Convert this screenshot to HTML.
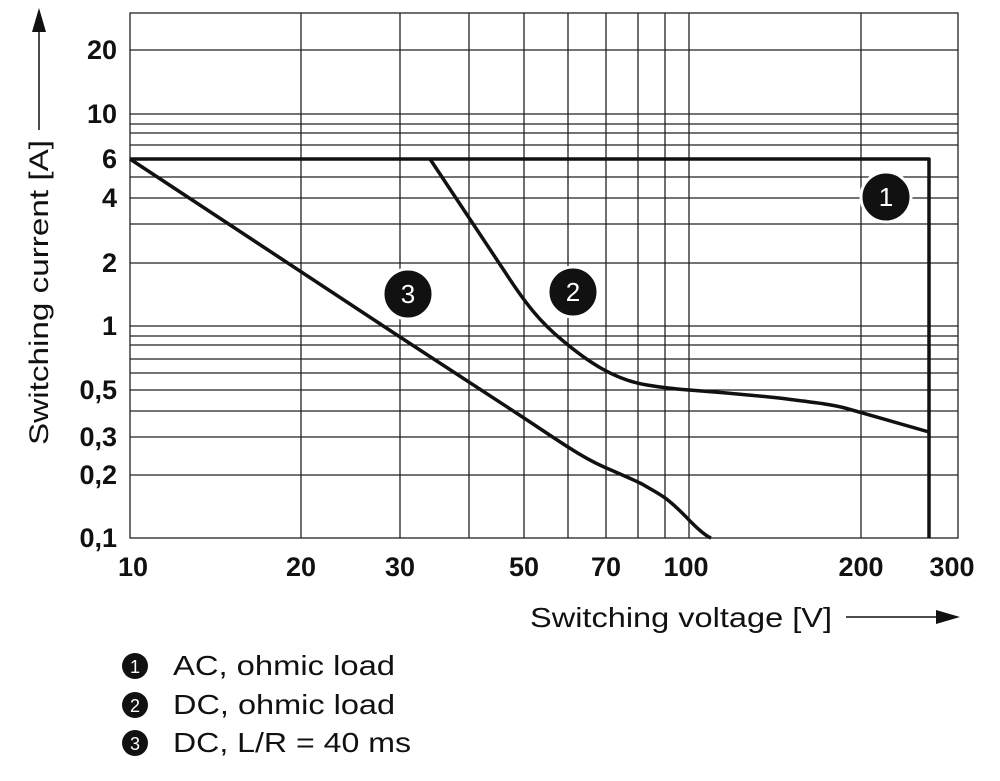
<!DOCTYPE html>
<html><head><meta charset="utf-8"><style>
body{margin:0;background:#fff;}
svg{display:block;font-family:"Liberation Sans",sans-serif;}
</style></head><body>
<svg width="1000" height="781" viewBox="0 0 1000 781">
<g stroke="#222" stroke-width="1.3" fill="none">
<rect x="130" y="13" width="828" height="525"/>
<path d="M301 13V538M400 13V538M469 13V538M524 13V538M568 13V538M606 13V538M638 13V538M665 13V538M689 13V538M861 13V538"/>
<path d="M130 50H958M130 114H958M130 124H958M130 133H958M130 145H958M130 177H958M130 198H958M130 224H958M130 263H958M130 326H958M130 336H958M130 345H958M130 359H958M130 373H958M130 390H958M130 411H958M130 437H958M130 475H958"/>
</g>
<g stroke="#111" stroke-width="3.5" fill="none" stroke-linejoin="round">
<path d="M130 159H929V538"/>
<path d="M430 159L505 272C525 303 540 322 562 340C588 362 615 380 647 385C665 388 675 389 689 390C730 393 760 396 779 398C810 402 830 404 845 408C880 418 905 425 929 432"/>
<path d="M130 159L400 337L524 418C545 432 560 442 568 447C585 458 595 463 604 467C620 474 632 479 642 484C652 490 662 495 669 501C680 510 687 518 691 522C700 531 706 536 711 538"/>
</g>
<g font-size="26" fill="#fff" text-anchor="middle">
<circle cx="886" cy="197" r="25" fill="#111" stroke="#fff" stroke-width="3"/><text x="886" y="206">1</text>
<circle cx="408" cy="294" r="25" fill="#111" stroke="#fff" stroke-width="3"/><text x="408" y="303">3</text>
<circle cx="573" cy="292" r="25" fill="#111" stroke="#fff" stroke-width="3"/><text x="573" y="301">2</text>
</g>
<g font-size="27" font-weight="bold" fill="#111" text-anchor="end">
<text x="117" y="59">20</text><text x="117" y="123">10</text><text x="117" y="168">6</text>
<text x="117" y="207">4</text><text x="117" y="272">2</text><text x="117" y="335">1</text>
<text x="117" y="399">0,5</text><text x="117" y="446">0,3</text><text x="117" y="484">0,2</text>
<text x="117" y="547">0,1</text>
</g>
<g font-size="27" font-weight="bold" fill="#111" text-anchor="middle">
<text x="133" y="576">10</text><text x="301" y="576">20</text><text x="400" y="576">30</text>
<text x="524" y="576">50</text><text x="606" y="576">70</text><text x="686" y="576">100</text>
<text x="861" y="576">200</text><text x="952" y="576">300</text>
</g>
<text transform="translate(48,445) rotate(-90)" font-size="27" fill="#111" textLength="305" lengthAdjust="spacingAndGlyphs">Switching current [A]</text>
<line x1="39" y1="130" x2="39" y2="28" stroke="#111" stroke-width="1.5"/>
<polygon points="39,8 32,32 46,32" fill="#111"/>
<text x="530" y="627" font-size="28" fill="#111" textLength="302" lengthAdjust="spacingAndGlyphs">Switching voltage [V]</text>
<line x1="846" y1="617" x2="940" y2="617" stroke="#111" stroke-width="1.5"/>
<polygon points="960,617 936,610 936,624" fill="#111"/>
<g font-size="28" fill="#111">
<circle cx="135" cy="666" r="13" fill="#111"/><text x="135" y="673" font-size="18" fill="#fff" text-anchor="middle">1</text>
<text x="173" y="675" textLength="222" lengthAdjust="spacingAndGlyphs">AC, ohmic load</text>
<circle cx="135" cy="705" r="13" fill="#111"/><text x="135" y="712" font-size="18" fill="#fff" text-anchor="middle">2</text>
<text x="173" y="714" textLength="222" lengthAdjust="spacingAndGlyphs">DC, ohmic load</text>
<circle cx="135" cy="743" r="13" fill="#111"/><text x="135" y="750" font-size="18" fill="#fff" text-anchor="middle">3</text>
<text x="173" y="752" textLength="238" lengthAdjust="spacingAndGlyphs">DC, L/R = 40 ms</text>
</g>
</svg>
</body></html>
